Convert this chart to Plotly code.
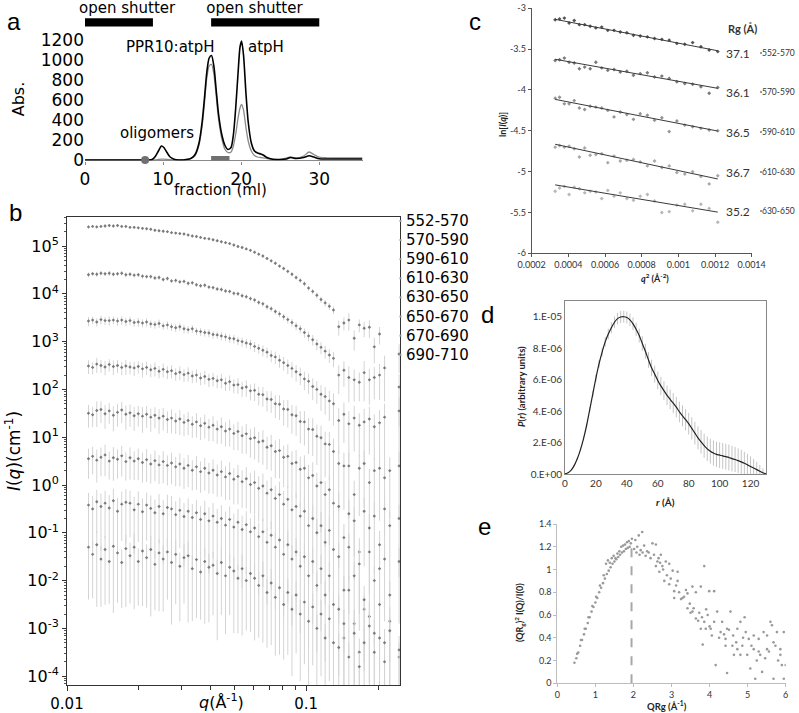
import plotly.graph_objects as go

W, H = 799, 713
def fx(p): return p / W
def fy(p): return 1 - p / H

# ---------------- Panel a : elution profile ----------------
a_fraction = [0, 2, 4, 6, 8, 8.6, 9.0, 9.4, 9.8, 10.1, 10.5, 10.9, 11.4, 12, 13, 13.6, 14.1, 14.6, 15.0, 15.3,
              15.6, 15.9, 16.2, 16.5, 16.8, 17.1, 17.5, 17.9, 18.3, 18.7, 19.0, 19.3, 19.6, 19.85, 20.05, 20.3,
              20.6, 20.9, 21.3, 21.7, 22.1, 22.5, 22.8, 23.3, 24, 25, 25.8, 26.3, 27, 28, 28.7, 29.3, 30, 31, 33, 35.5]
a_black = [0, 0, 0, 0, 0, 5, 35, 90, 140, 125, 75, 30, 8, 0, 5, 18, 55, 170, 380, 620,
           880, 1020, 1045, 940, 700, 460, 260, 150, 105, 125, 250, 520, 870, 1130, 1190, 1050,
           680, 380, 170, 90, 70, 60, 50, 25, 8, 5, 10, 25, 15, 25, 42, 30, 12, 10, 10, 10]
a_gray = [0, 0, 0, 0, 0, 0, 2, 5, 8, 8, 5, 3, 1, 0, 5, 15, 45, 150, 340, 570,
          820, 940, 955, 860, 640, 410, 220, 110, 75, 80, 140, 260, 420, 520, 555, 500,
          330, 190, 90, 45, 30, 25, 22, 15, 8, 5, 20, 30, 20, 40, 80, 55, 28, 22, 20, 20]
a_shutter_start = [0.0, 16.15]
a_shutter_end = [8.7, 30.0]
a_collected = [16.15, 18.5]
a_oligomer_x = [7.7]
a_oligomer_y = [0]

# ---------------- Panel b : SAXS curves ----------------
b_q = [0.01230, 0.01280, 0.01332, 0.01387, 0.01443, 0.01502, 0.01563, 0.01627, 0.01694, 0.01763,
       0.01835, 0.01910, 0.01987, 0.02069, 0.02153, 0.02241, 0.02332, 0.02427, 0.02526, 0.02630,
       0.02737, 0.02849, 0.02965, 0.03086, 0.03212, 0.03343, 0.03479, 0.03621, 0.03769, 0.03923,
       0.04083, 0.04250, 0.04423, 0.04604, 0.04791, 0.04987, 0.05190, 0.05402, 0.05623, 0.05852,
       0.06091, 0.06339, 0.06598, 0.06867, 0.07148, 0.07439, 0.07743, 0.08059, 0.08388, 0.08730,
       0.09086, 0.09457, 0.09843, 0.10245, 0.10663, 0.11098, 0.11551, 0.12022, 0.12513, 0.13024,
       0.1370, 0.1440, 0.1510, 0.1590, 0.1670, 0.1750, 0.1840, 0.1930, 0.2030, 0.2130, 0.2240, 0.2450]
b_labels = ["552-570", "570-590", "590-610", "610-630", "630-650", "650-670", "670-690", "690-710"]

b_log_552 = [5.40, 5.41, 5.40, 5.41, 5.42, 5.43, 5.42, 5.43, 5.41, 5.41,
             5.39, 5.39, 5.38, 5.37, 5.36, 5.35, 5.33, 5.32, 5.31, 5.30,
             5.28, 5.27, 5.26, 5.25, 5.23, 5.21, 5.20, 5.18, 5.16, 5.15,
             5.13, 5.11, 5.09, 5.07, 5.05, 5.02, 4.99, 4.97, 4.94, 4.91,
             4.87, 4.83, 4.79, 4.74, 4.69, 4.64, 4.58, 4.53, 4.47, 4.41,
             4.34, 4.28, 4.21, 4.12, 4.05, 3.97, 3.88, 3.81, 3.74, 3.66,
             3.31, 3.39, 3.45, 3.07, 3.35, 3.28, 3.30, 2.89, 3.16, None, None, 2.74]
b_log_570 = [4.40, 4.42, 4.41, 4.43, 4.42, 4.43, 4.41, 4.42, 4.43, 4.40,
             4.41, 4.39, 4.40, 4.37, 4.36, 4.36, 4.33, 4.34, 4.30, 4.32,
             4.27, 4.28, 4.25, 4.26, 4.22, 4.23, 4.19, 4.17, 4.18, 4.14,
             4.13, 4.10, 4.09, 4.06, 4.05, 4.01, 4.00, 3.96, 3.94, 3.90,
             3.87, 3.82, 3.79, 3.73, 3.69, 3.63, 3.58, 3.52, 3.46, 3.40,
             3.33, 3.27, 3.19, 3.12, 3.04, 2.95, 2.88, 2.80, 2.72, 2.65,
             2.30, 2.40, 2.25, 2.20, 2.15, 2.35, 2.20, 2.25, 2.30, 2.45, None, 2.05]
b_log_590 = [3.43, 3.45, 3.41, 3.46, 3.44, 3.44, 3.45, 3.43, 3.45, 3.42,
             3.44, 3.40, 3.41, 3.39, 3.41, 3.37, 3.36, 3.38, 3.33, 3.35,
             3.31, 3.29, 3.31, 3.27, 3.25, 3.27, 3.22, 3.21, 3.19, 3.18,
             3.15, 3.14, 3.12, 3.10, 3.07, 3.06, 3.02, 3.00, 2.97, 2.95,
             2.90, 2.86, 2.82, 2.78, 2.71, 2.68, 2.61, 2.56, 2.50, 2.44,
             2.37, 2.31, 2.22, 2.17, 2.06, 2.00, 1.90, 1.85, 1.76, 1.70,
             1.35, 1.48, 1.28, 1.40, 1.25, 1.32, 1.38, 1.22, 1.30, 1.42, None, 1.55]
b_log_610 = [2.49, 2.46, 2.53, 2.50, 2.47, 2.52, 2.48, 2.50, 2.46, 2.49,
             2.47, 2.45, 2.48, 2.43, 2.46, 2.41, 2.44, 2.38, 2.42, 2.37,
             2.39, 2.33, 2.36, 2.31, 2.34, 2.28, 2.30, 2.24, 2.27, 2.21,
             2.23, 2.18, 2.20, 2.13, 2.16, 2.09, 2.10, 2.03, 2.05, 1.97,
             1.98, 1.90, 1.89, 1.80, 1.79, 1.70, 1.69, 1.59, 1.58, 1.47,
             1.45, 1.33, 1.32, 1.17, 1.16, 1.02, 0.99, 0.86, 0.85, 0.70,
             0.45, 0.40, 0.40, -0.20, 0.35, 0.45, 0.05, 0.30, 0.35, 0.15, 0.30, 0.40]
b_log_630 = [1.50, 1.47, 1.56, 1.58, 1.49, 1.55, 1.46, 1.52, 1.57, 1.48,
             1.51, 1.45, 1.49, 1.44, 1.48, 1.42, 1.46, 1.40, 1.44, 1.37,
             1.40, 1.34, 1.38, 1.31, 1.35, 1.27, 1.32, 1.24, 1.29, 1.21,
             1.25, 1.17, 1.22, 1.13, 1.17, 1.08, 1.12, 1.03, 1.07, 0.97,
             0.99, 0.90, 0.92, 0.79, 0.82, 0.70, 0.72, 0.58, 0.60, 0.45,
             0.47, 0.33, 0.35, 0.15, 0.20, -0.02, 0.05, -0.20, -0.10, -0.38,
             -0.45, -1.10, -0.60, -0.75, -1.40, -0.55, -0.90, -0.65, -1.25, -0.50, -0.85, -0.70]
b_log_650 = [0.55, 0.60, 0.52, 0.58, 0.63, 0.50, 0.57, 0.54, 0.61, 0.49,
             0.57, 0.50, 0.55, 0.47, 0.53, 0.44, 0.51, 0.42, 0.49, 0.41,
             0.46, 0.38, 0.44, 0.35, 0.41, 0.31, 0.38, 0.28, 0.35, 0.25,
             0.31, 0.21, 0.28, 0.17, 0.24, 0.12, 0.18, 0.07, 0.13, 0.01,
             0.05, -0.07, -0.02, -0.17, -0.10, -0.28, -0.20, -0.40, -0.30, -0.52,
             -0.45, -0.65, -0.55, -0.85, -0.70, -1.00, -0.85, -1.20, -0.95, -1.35,
             -1.50, -2.20, -1.30, -1.90, -1.65, -2.60, -1.40, -2.00, -1.75, -1.55, -2.30, -1.60]
b_log_670 = [-0.42, -0.50, -0.35, -0.45, -0.38, -0.48, -0.33, -0.55, -0.40, -0.36,
             -0.38, -0.52, -0.40, -0.56, -0.42, -0.49, -0.58, -0.45, -0.60, -0.47,
             -0.50, -0.62, -0.53, -0.66, -0.55, -0.68, -0.58, -0.72, -0.60, -0.75,
             -0.65, -0.78, -0.70, -0.84, -0.72, -0.88, -0.78, -0.93, -0.83, -0.98,
             -0.90, -1.08, -0.98, -1.20, -1.05, -1.30, -1.15, -1.45, -1.25, -1.55,
             -1.40, -1.70, -1.50, -1.90, -1.60, -2.10, -1.75, -2.30, -1.90, -2.50,
             -2.60, -3.20, -2.20, -2.90, -3.50, -2.40, -2.75, -3.10, -2.50, -3.30, -2.85, -3.60]
b_log_690 = [-1.30, -1.45, -1.25, -1.55, -1.35, -1.60, -1.28, -1.42, -1.62, -1.33,
             -1.48, -1.30, -1.60, -1.38, -1.52, -1.35, -1.66, -1.42, -1.55, -1.40,
             -1.62, -1.45, -1.70, -1.52, -1.48, -1.75, -1.56, -1.82, -1.60, -1.72,
             -1.68, -1.85, -1.62, -1.90, -1.72, -1.80, -1.95, -1.75, -2.00, -1.85,
             -1.95, -2.10, -1.90, -2.25, -2.05, -2.35, -2.15, -2.50, -2.25, -2.60,
             -2.30, -2.70, -2.45, -2.85, -2.55, -3.00, -2.70, -3.20, -2.80, -3.30,
             -3.40, -2.90, -3.60, -3.10, -3.80, -3.30, -2.95, -3.50, -3.20, -3.70, -3.05, -3.45]

b_err_552 = [0.08, 0.07, 0.08, 0.07, 0.08, 0.07, 0.08, 0.07, 0.07, 0.08,
             0.07, 0.07, 0.06, 0.07, 0.06, 0.07, 0.06, 0.06, 0.07, 0.06,
             0.06, 0.06, 0.07, 0.06, 0.06, 0.06, 0.06, 0.07, 0.06, 0.06,
             0.06, 0.06, 0.06, 0.07, 0.06, 0.06, 0.06, 0.07, 0.06, 0.07,
             0.07, 0.07, 0.08, 0.07, 0.08, 0.08, 0.08, 0.09, 0.09, 0.10,
             0.10, 0.11, 0.12, 0.12, 0.13, 0.14, 0.15, 0.16, 0.17, 0.18,
             0.35, 0.30, 0.40, 0.45, 0.30, 0.35, 0.40, 0.55, 0.40, 0.0, 0.0, 0.60]
b_err_570 = [0.12, 0.10, 0.12, 0.11, 0.10, 0.12, 0.11, 0.10, 0.11, 0.12,
             0.10, 0.11, 0.10, 0.12, 0.10, 0.11, 0.10, 0.11, 0.10, 0.10,
             0.10, 0.11, 0.10, 0.10, 0.11, 0.10, 0.10, 0.10, 0.11, 0.10,
             0.10, 0.10, 0.11, 0.10, 0.10, 0.11, 0.10, 0.11, 0.11, 0.12,
             0.12, 0.12, 0.13, 0.13, 0.14, 0.14, 0.15, 0.16, 0.17, 0.18,
             0.19, 0.20, 0.22, 0.23, 0.25, 0.26, 0.28, 0.30, 0.32, 0.35,
             0.60, 0.55, 0.70, 0.65, 0.60, 0.75, 0.70, 0.65, 0.70, 0.80, 0.0, 0.85]
b_err_590 = [0.22, 0.18, 0.20, 0.21, 0.19, 0.22, 0.18, 0.20, 0.21, 0.19,
             0.20, 0.18, 0.21, 0.19, 0.20, 0.18, 0.19, 0.20, 0.18, 0.19,
             0.18, 0.19, 0.18, 0.20, 0.18, 0.19, 0.18, 0.19, 0.18, 0.19,
             0.19, 0.18, 0.20, 0.19, 0.20, 0.21, 0.20, 0.22, 0.21, 0.23,
             0.24, 0.23, 0.26, 0.25, 0.28, 0.29, 0.30, 0.32, 0.34, 0.36,
             0.38, 0.40, 0.42, 0.45, 0.48, 0.50, 0.55, 0.58, 0.62, 0.65,
             0.80, 0.75, 0.85, 0.80, 0.78, 0.88, 0.82, 0.80, 0.85, 0.90, 0.0, 0.92]
b_err_610 = [0.32, 0.28, 0.35, 0.30, 0.33, 0.29, 0.34, 0.30, 0.31, 0.35,
             0.30, 0.33, 0.29, 0.34, 0.31, 0.30, 0.33, 0.29, 0.32, 0.30,
             0.31, 0.29, 0.32, 0.30, 0.33, 0.29, 0.31, 0.30, 0.32, 0.31,
             0.32, 0.30, 0.34, 0.31, 0.35, 0.33, 0.36, 0.35, 0.38, 0.37,
             0.40, 0.42, 0.44, 0.46, 0.48, 0.50, 0.53, 0.55, 0.58, 0.60,
             0.62, 0.65, 0.68, 0.70, 0.72, 0.75, 0.78, 0.80, 0.82, 0.85,
             0.90, 0.88, 0.92, 0.95, 0.90, 0.88, 0.93, 0.90, 0.92, 0.94, 0.90, 0.92]
b_err_630 = [0.50, 0.45, 0.55, 0.48, 0.52, 0.46, 0.54, 0.50, 0.47, 0.53,
             0.49, 0.52, 0.46, 0.55, 0.48, 0.51, 0.47, 0.53, 0.50, 0.48,
             0.52, 0.47, 0.54, 0.49, 0.51, 0.48, 0.53, 0.50, 0.52, 0.49,
             0.54, 0.51, 0.56, 0.53, 0.57, 0.55, 0.60, 0.58, 0.62, 0.60,
             0.65, 0.63, 0.68, 0.66, 0.70, 0.72, 0.74, 0.76, 0.78, 0.80,
             0.82, 0.84, 0.86, 0.88, 0.89, 0.90, 0.91, 0.92, 0.93, 0.94,
             0.95, 0.92, 0.96, 0.94, 0.95, 0.93, 0.96, 0.94, 0.95, 0.93, 0.96, 0.94]
b_err_650 = [0.62, 0.58, 0.66, 0.60, 0.64, 0.59, 0.67, 0.61, 0.63, 0.60,
             0.65, 0.60, 0.64, 0.62, 0.66, 0.61, 0.63, 0.60, 0.65, 0.62,
             0.64, 0.61, 0.66, 0.63, 0.65, 0.62, 0.67, 0.64, 0.66, 0.63,
             0.68, 0.65, 0.70, 0.67, 0.72, 0.70, 0.74, 0.72, 0.76, 0.75,
             0.78, 0.80, 0.82, 0.83, 0.85, 0.86, 0.87, 0.88, 0.89, 0.90,
             0.91, 0.92, 0.92, 0.93, 0.93, 0.94, 0.94, 0.95, 0.95, 0.95,
             0.96, 0.95, 0.96, 0.95, 0.96, 0.95, 0.96, 0.95, 0.96, 0.95, 0.96, 0.95]
b_err_670 = [0.80, 0.85, 0.78, 0.88, 0.82, 0.86, 0.79, 0.90, 0.83, 0.87,
             0.81, 0.88, 0.84, 0.90, 0.82, 0.87, 0.89, 0.83, 0.91, 0.85,
             0.86, 0.90, 0.84, 0.91, 0.87, 0.92, 0.85, 0.90, 0.88, 0.92,
             0.87, 0.91, 0.89, 0.93, 0.88, 0.92, 0.90, 0.94, 0.91, 0.93,
             0.92, 0.94, 0.93, 0.95, 0.93, 0.95, 0.94, 0.95, 0.94, 0.96,
             0.95, 0.96, 0.95, 0.96, 0.95, 0.96, 0.95, 0.96, 0.95, 0.96,
             0.96, 0.95, 0.96, 0.95, 0.96, 0.95, 0.96, 0.95, 0.96, 0.95, 0.96, 0.95]
b_err_690 = [0.92, 0.88, 0.95, 0.90, 0.93, 0.87, 0.96, 0.91, 0.89, 0.94,
             0.90, 0.95, 0.88, 0.93, 0.91, 0.96, 0.89, 0.94, 0.92, 0.90,
             0.95, 0.91, 0.93, 0.89, 0.96, 0.92, 0.94, 0.90, 0.95, 0.93,
             0.91, 0.96, 0.92, 0.94, 0.90, 0.95, 0.93, 0.96, 0.91, 0.94,
             0.95, 0.92, 0.96, 0.93, 0.95, 0.94, 0.96, 0.93, 0.95, 0.96,
             0.94, 0.96, 0.95, 0.96, 0.94, 0.96, 0.95, 0.96, 0.95, 0.96,
             0.96, 0.95, 0.96, 0.95, 0.96, 0.95, 0.96, 0.95, 0.96, 0.95, 0.96, 0.95]

b_series = [b_log_552, b_log_570, b_log_590, b_log_610, b_log_630, b_log_650, b_log_670, b_log_690]
b_errors = [b_err_552, b_err_570, b_err_590, b_err_610, b_err_630, b_err_650, b_err_670, b_err_690]

# ---------------- Panel c : Guinier plots ----------------
c_q2 = [0.000328, 0.000352, 0.000378, 0.000404, 0.000432, 0.000460, 0.000489, 0.000519, 0.000550,
        0.000582, 0.000615, 0.000649, 0.000683, 0.000719, 0.000755, 0.000792, 0.000831, 0.000870,
        0.000910, 0.000950, 0.000992, 0.001035, 0.001078, 0.001123, 0.001168, 0.001215]
c_ln_552 = [-3.14, -3.13, -3.12, -3.18, -3.15, -3.20, -3.20, -3.22, -3.24, -3.23, -3.27, -3.27, -3.29,
            -3.30, -3.33, -3.34, -3.35, -3.37, -3.38, -3.39, -3.43, -3.44, -3.42, -3.47, -3.51, -3.53]
c_ln_570 = [-3.64, -3.63, -3.61, -3.66, -3.67, -3.74, -3.72, -3.74, -3.66, -3.73, -3.76, -3.75, -3.78,
            -3.77, -3.82, -3.80, -3.79, -3.84, -3.83, -3.86, -3.90, -3.92, -3.93, -3.96, -4.04, -3.97]
c_ln_590 = [-4.10, -4.09, -4.17, -4.17, -4.13, -4.22, -4.24, -4.20, -4.21, -4.22, -4.25, -4.33, -4.27,
            -4.30, -4.36, -4.29, -4.31, -4.37, -4.34, -4.51, -4.38, -4.43, -4.45, -4.47, -4.49, -4.50]
c_ln_610 = [-4.70, -4.68, -4.70, -4.69, -4.72, -4.82, -4.71, -4.80, -4.79, -4.78, -4.89, -4.81, -4.87,
            -4.86, -4.85, -4.88, -4.93, -4.87, -4.95, -4.93, -5.01, -5.03, -5.00, -5.06, -5.15, -5.05]
c_ln_630 = [-5.24, -5.20, -5.18, -5.28, -5.19, -5.21, -5.26, -5.24, -5.25, -5.33, -5.23, -5.30, -5.26,
            -5.33, -5.35, -5.30, -5.28, -5.36, -5.50, -5.49, -5.41, -5.40, -5.48, -5.40, -5.45, -5.62]
c_fit_x = [0.000328, 0.001215]
c_fit_552 = [-3.135, -3.52]
c_fit_570 = [-3.624, -3.98]
c_fit_590 = [-4.115, -4.503]
c_fit_610 = [-4.665, -5.09]
c_fit_630 = [-5.162, -5.496]
c_rg = ["37.1", "36.1", "36.5", "36.7", "35.2"]
c_labels = ["552-570", "570-590", "590-610", "610-630", "630-650"]
c_colors = ["#555555", "#7a7a7a", "#959595", "#a8a8a8", "#b8b8b8"]

# ---------------- Panel d : P(r) ----------------
d_r = [0, 2, 4, 6, 8, 10, 12, 14, 16, 18, 20, 22, 24, 26, 28, 30, 32, 34, 36, 38, 40, 42, 44, 46, 48, 50,
       52, 54, 56, 58, 60, 62, 64, 66, 68, 70, 72, 74, 76, 78, 80, 82, 84, 86, 88, 90, 92, 94, 96, 98, 100,
       102, 104, 106, 108, 110, 112, 114, 116, 118, 120, 122, 124, 126, 128, 130]
d_p = [0, 0.08, 0.25, 0.55, 0.98, 1.55, 2.25, 3.1, 4.1, 5.1,
       6.1, 7.0, 7.75, 8.4, 8.9, 9.3, 9.65, 9.88, 9.98, 10.0,
       9.95, 9.8, 9.55, 9.2, 8.8, 8.3, 7.8, 7.25, 6.75, 6.35,
       5.95, 5.6, 5.3, 5.0, 4.75, 4.5, 4.25, 3.95, 3.7, 3.45,
       3.2, 2.9, 2.6, 2.3, 2.05, 1.8, 1.6, 1.45, 1.33, 1.25,
       1.2, 1.15, 1.1, 1.05, 0.98, 0.92, 0.85, 0.77, 0.68, 0.58,
       0.48, 0.38, 0.28, 0.18, 0.08, 0]
d_err = [0, 0.02, 0.03, 0.05, 0.07, 0.09, 0.11, 0.13, 0.16, 0.19,
         0.22, 0.25, 0.28, 0.31, 0.33, 0.35, 0.36, 0.37, 0.38, 0.38,
         0.38, 0.39, 0.40, 0.42, 0.44, 0.46, 0.48, 0.50, 0.52, 0.54,
         0.56, 0.58, 0.60, 0.62, 0.63, 0.64, 0.65, 0.66, 0.67, 0.68,
         0.69, 0.70, 0.72, 0.73, 0.75, 0.76, 0.78, 0.79, 0.80, 0.81,
         0.82, 0.82, 0.82, 0.82, 0.81, 0.80, 0.78, 0.76, 0.73, 0.70,
         0.65, 0.58, 0.50, 0.40, 0.28, 0.10]
d_unit = 1e-6

# ---------------- Panel e : Kratky plot ----------------
e_x = [0.45, 0.50, 0.55, 0.60, 0.65, 0.70, 0.75, 0.80, 0.85, 0.90, 0.95, 1.00, 1.05, 1.10, 1.15, 1.20, 1.25,
       1.30, 1.35, 1.40, 1.45, 1.50, 1.55, 1.60, 1.65, 1.70, 1.75, 1.80, 1.85, 1.90,
       0.52, 0.62, 0.72, 0.82, 0.92, 1.02, 1.12, 1.22, 1.28, 1.33, 1.38, 1.43, 1.48, 1.53, 1.58, 1.63,
       1.68, 1.73, 1.78, 1.83, 1.88, 1.93,
       1.96, 2.05, 2.14, 2.23, 2.10, 2.19, 2.28, 2.36, 2.50, 2.59, 2.45, 2.63, 2.72, 2.76, 2.85, 2.94,
       3.03, 3.16, 2.59, 2.68, 2.81, 2.94, 3.07, 3.16, 3.07, 3.29, 3.42, 3.55, 3.64, 3.77, 3.86, 3.99,
       4.12, 3.42, 3.55, 3.64, 3.77, 3.86, 3.91, 3.95, 3.82, 4.03, 4.12, 4.20, 4.16, 4.29, 4.33, 4.42,
       4.46, 4.51, 4.55, 4.46, 4.42, 4.60, 4.64, 4.73, 4.81, 4.86, 4.92, 4.99, 5.03, 5.07, 5.16, 5.20,
       5.29, 5.33, 5.38, 5.42, 5.51, 5.60, 5.64, 5.68, 5.73, 5.77, 5.86, 5.90, 5.95, 6.00, 4.73, 4.81,
       4.95, 5.16, 5.29, 5.51, 5.68, 5.86, 5.95,
       2.02, 2.08, 2.16, 2.24, 2.32, 2.40, 2.54, 2.66, 2.70, 2.78, 2.88, 2.98, 3.12, 3.20, 3.25, 3.33,
       3.38, 3.48, 3.50, 3.58, 3.70, 3.73, 3.80, 3.90, 4.00, 4.06, 4.25, 4.38, 4.62, 4.70, 4.88, 5.10,
       5.24, 5.46, 5.56, 5.80]
e_y = [0.18, 0.22, 0.27, 0.33, 0.38, 0.43, 0.48, 0.53, 0.58, 0.63, 0.67, 0.71, 0.75, 0.80, 0.84, 0.88, 0.92,
       0.96, 0.99, 1.02, 1.05, 1.07, 1.09, 1.11, 1.13, 1.15, 1.16, 1.18, 1.19, 1.20,
       0.26, 0.38, 0.48, 0.58, 0.68, 0.76, 0.86, 0.95, 1.05, 1.08, 1.06, 1.10, 1.12, 1.10, 1.14, 1.16,
       1.20, 1.21, 1.22, 1.24, 1.25, 1.23,
       1.27, 1.26, 1.30, 1.33, 1.20, 1.17, 1.21, 1.16, 1.23, 1.22, 1.10, 1.07, 1.13, 1.03, 1.07, 1.05,
       0.99, 0.98, 1.03, 0.98, 0.90, 0.87, 0.81, 0.90, 0.75, 0.75, 0.79, 0.85, 0.80, 0.85, 1.03, 0.81,
       0.81, 0.66, 0.63, 0.57, 0.48, 0.54, 0.65, 0.60, 0.34, 0.48, 0.54, 0.63, 0.16, 0.45, 0.54, 0.39,
       0.48, 0.47, 0.63, 0.09, 0.33, 0.33, 0.25, 0.48, 0.54, 0.33, 0.58, 0.25, 0.39, 0.13, 0.30, 0.04,
       0.39, 0.25, 0.10, 0.45, 0.30, 0.54, 0.51, 0.04, 0.33, 0.45, 0.25, 0.16, 0.04, 0.16, 0.30, 0.25,
       0.45, 0.42, 0.28, 0.42, 0.36, 0.30, 0.45,
       1.18, 1.15, 1.13, 1.15, 1.12, 1.15, 1.13, 1.10, 1.06, 1.00, 0.95, 0.92, 0.86, 0.80, 0.74, 0.76,
       0.82, 0.70, 0.62, 0.66, 0.55, 0.62, 0.58, 0.48, 0.50, 0.42, 0.40, 0.43, 0.42, 0.36, 0.40, 0.33,
       0.20, 0.22, 0.28, 0.20]
e_peak_x = 1.95
e_peak_y = 1.22

# ======================= figure =======================
fig = go.Figure()
ab_font = "DejaVu Sans"
cde_font = "Lato"

# panel a
fig.add_trace(go.Scatter(x=a_fraction, y=a_gray, mode="lines", xaxis="x", yaxis="y",
                         line=dict(color="#8a8a8a", width=1.3, shape="spline", smoothing=0.7)))
fig.add_trace(go.Scatter(x=a_fraction, y=a_black, mode="lines", xaxis="x", yaxis="y",
                         line=dict(color="black", width=1.6, shape="spline", smoothing=0.7)))
fig.add_trace(go.Scatter(x=a_collected, y=[0, 0], mode="lines", xaxis="x", yaxis="y",
                         line=dict(color="#707070", width=8), cliponaxis=False))
fig.add_trace(go.Scatter(x=a_oligomer_x, y=a_oligomer_y, mode="markers", xaxis="x", yaxis="y",
                         marker=dict(size=8, color="#707070"), cliponaxis=False))
# helper trace so that the top label axis (x6) is drawn
fig.add_trace(go.Scatter(x=[0], y=[0], mode="markers", xaxis="x6", yaxis="y",
                         marker=dict(size=1, color="rgba(0,0,0,0)"), hoverinfo="skip"))

shapes = []
for s, e in zip(a_shutter_start, a_shutter_end):
    shapes.append(dict(type="rect", xref="x", yref="paper", x0=s, x1=e, y0=fy(26.5), y1=fy(18.3),
                       fillcolor="black", line=dict(width=0)))

# panel b
for logs, rel in zip(b_series, b_errors):
    xs, ys, up, dn = [], [], [], []
    for q, v, r in zip(b_q, logs, rel):
        if v is None:
            continue
        I = 10 ** v
        xs.append(q)
        ys.append(I)
        up.append(I * r)
        dn.append(I * min(r, 0.97))
    fig.add_trace(go.Scatter(x=xs, y=ys, mode="markers", xaxis="x2", yaxis="y2",
                             marker=dict(size=2.6, color="#7a7a7a", symbol="diamond"),
                             error_y=dict(type="data", array=up, arrayminus=dn, color="#d4d4d4",
                                          thickness=1, width=0)))

# panel c
c_series = [c_ln_552, c_ln_570, c_ln_590, c_ln_610, c_ln_630]
c_fits = [c_fit_552, c_fit_570, c_fit_590, c_fit_610, c_fit_630]
for ys, fit, col in zip(c_series, c_fits, c_colors):
    fig.add_trace(go.Scatter(x=c_q2, y=ys, mode="markers", xaxis="x3", yaxis="y3",
                             marker=dict(size=3, color=col, symbol="diamond")))
    fig.add_trace(go.Scatter(x=c_fit_x, y=fit, mode="lines", xaxis="x3", yaxis="y3",
                             line=dict(color="#3a3a3a", width=1)))

# panel d
d_vals = [p * d_unit for p in d_p]
d_errs = [e * d_unit for e in d_err]
fig.add_trace(go.Scatter(x=d_r, y=d_vals, mode="markers", xaxis="x4", yaxis="y4",
                         marker=dict(size=1, color="rgba(0,0,0,0)"),
                         error_y=dict(type="data", array=d_errs, color="#c4c4c4", thickness=1, width=0)))
fig.add_trace(go.Scatter(x=d_r, y=d_vals, mode="lines", xaxis="x4", yaxis="y4",
                         line=dict(color="#222222", width=1.2, shape="spline", smoothing=0.6)))

# panel e
fig.add_trace(go.Scatter(x=e_x, y=e_y, mode="markers", xaxis="x5", yaxis="y5",
                         marker=dict(size=2.6, color="#9a9a9a")))
fig.add_trace(go.Scatter(x=[e_peak_x, e_peak_x], y=[0, e_peak_y], mode="lines", xaxis="x5", yaxis="y5",
                         line=dict(color="#a8a8a8", width=2, dash="dash")))

# ---------- annotations (all kept inside the page) ----------
anns = []
def ann(text, x, y, size, family=ab_font, color="black", xanchor="center", angle=0):
    anns.append(dict(text=text, x=fx(x), y=fy(y), xref="paper", yref="paper", showarrow=False,
                     font=dict(size=size, family=family, color=color), xanchor=xanchor,
                     yanchor="middle", textangle=angle))

ann("a", 14, 21, 24, "Liberation Sans")
ann("b", 15, 212, 24, "Liberation Sans")
ann("c", 475, 22, 24, "Liberation Sans")
ann("d", 487, 314, 24, "Liberation Sans")
ann("e", 485, 526, 24, "Liberation Sans")

ann("PPR10:atpH", 170, 47, 15)
ann("atpH", 266, 47, 15)
ann("oligomers", 157, 133, 15)
ann("fraction (ml)", 220, 190, 15)

ann("<i>q</i>(Å<sup>-1</sup>)", 221, 701, 16)
for i, lab in enumerate(b_labels):
    yy = 221 + 19.1 * i
    ann(lab, 404, yy, 15, xanchor="left")
    shapes.append(dict(type="rect", xref="paper", yref="paper", x0=fx(399.5), x1=fx(401.5),
                       y0=fy(yy + 1), y1=fy(yy - 1), fillcolor="#9a9a9a", line=dict(width=0)))

ann("<b>ln[<i>I</i>(<i>q</i>)]</b>", 502, 125, 9, cde_font, "#222", angle=-90)
ann("<b><i>q</i><sup>2</sup> (Å<sup>-2</sup>)</b>", 655, 278, 9, cde_font, "#222")
ann("<b>Rg (Å)</b>", 742, 28, 11, cde_font, "#333")
c_label_y = [53, 92, 132, 172, 211]
for rg, lab, yy in zip(c_rg, c_labels, c_label_y):
    ann(rg, 738, yy, 12, cde_font, "#333")
    anns.append(dict(text=lab, x=fx(797), y=fy(yy), xref="paper", yref="paper", showarrow=False,
                     font=dict(size=8.5, family=cde_font, color="#333"), xanchor="right", yanchor="middle"))
    shapes.append(dict(type="rect", xref="paper", yref="paper", x0=fx(760), x1=fx(762),
                       y0=fy(yy + 1), y1=fy(yy - 1), fillcolor="#9a9a9a", line=dict(width=0)))

ann("<b><i>P</i>(<i>r</i>) (arbitrary units)</b>", 522, 387, 9.5, cde_font, "#222", angle=-90)
ann("<b><i>r</i> (Å)</b>", 665, 502, 10, cde_font, "#222")

ann("<b>(QR<sub>g</sub>)<sup>2</sup> I(Q)/I(0)</b>", 519, 613, 9, cde_font, "#222", angle=-90)
ann("<b>QRg (Å<sup>-1</sup>)</b>", 667, 705, 9.5, cde_font, "#222")

# ---------- axes ----------
small = dict(family=cde_font, size=9, color="#333")
layout = dict(
    width=W, height=H, margin=dict(l=0, r=0, t=0, b=0, pad=0), autosize=False,
    paper_bgcolor="white", plot_bgcolor="white", showlegend=False,
    font=dict(family=ab_font, color="black"),
    annotations=anns, shapes=shapes,
    # a
    xaxis=dict(domain=[fx(85), fx(363)], range=[0, 35.6], anchor="y", tickvals=[0, 10, 20, 30],
               ticks="outside", ticklen=3, tickcolor="#888", showline=False, showgrid=False,
               zeroline=False, automargin=False, tickfont=dict(size=17, family=ab_font)),
    xaxis6=dict(overlaying="x", anchor="free", position=fy(16), side="top", range=[0, 35.6],
                tickvals=[5.4, 21.7], ticktext=["open shutter", "open shutter"], ticks="",
                showline=False, showgrid=False, zeroline=False, automargin=False,
                tickfont=dict(size=15, family=ab_font)),
    yaxis=dict(domain=[fy(160.5), fy(37.5)], range=[-5, 1225], anchor="x",
               tickvals=[0, 200, 400, 600, 800, 1000, 1200], ticks="", showline=False, showgrid=False,
               zeroline=True, zerolinecolor="#8a8a8a", zerolinewidth=1.2, automargin=False,
               tickfont=dict(size=17, family=ab_font),
               title=dict(text="Abs.", standoff=12, font=dict(size=16, family=ab_font))),
    # b
    xaxis2=dict(domain=[fx(67), fx(400)], type="log", range=[-2, -0.607], anchor="y2",
                showline=True, mirror=True, linecolor="#333", linewidth=1, showgrid=False, zeroline=False,
                tickvals=[0.01, 0.1], ticktext=["0.01", "0.1"], automargin=False,
                ticks="outside", ticklen=5, tickcolor="#333", tickfont=dict(size=15, family=ab_font),
                minor=dict(ticks="outside", ticklen=4, tickcolor="#333", showgrid=False,
                           tickvals=[0.02, 0.03, 0.04, 0.05, 0.06, 0.07, 0.08, 0.09, 0.2])),
    yaxis2=dict(domain=[fy(685), fy(217)], type="log", range=[-4.184, 5.607], anchor="x2",
                showline=True, mirror=True, linecolor="#333", linewidth=1, showgrid=False, zeroline=False,
                tickvals=[1e-4, 1e-3, 1e-2, 1e-1, 1, 10, 100, 1e3, 1e4, 1e5],
                ticktext=["10<sup>-4</sup>", "10<sup>-3</sup>", "10<sup>-2</sup>", "10<sup>-1</sup>",
                          "10<sup>0</sup>", "10<sup>1</sup>", "10<sup>2</sup>", "10<sup>3</sup>",
                          "10<sup>4</sup>", "10<sup>5</sup>"],
                ticks="outside", ticklen=4, tickcolor="#333", tickfont=dict(size=16, family=ab_font),
                automargin=False,
                title=dict(text="<i>I</i>(<i>q</i>)(cm<sup>-1</sup>)", standoff=2,
                           font=dict(size=17, family=ab_font)),
                minor=dict(ticks="outside", ticklen=2, tickcolor="#555", showgrid=False,
                           tickvals=[m * 10 ** k for k in range(-5, 6) for m in range(2, 10)])),
    # c
    xaxis3=dict(domain=[fx(531.7), fx(751.7)], range=[0.0002, 0.0014], anchor="y3",
                tickvals=[0.0002, 0.0004, 0.0006, 0.0008, 0.001, 0.0012, 0.0014],
                ticktext=["0.0002", "0.0004", "0.0006", "0.0008", "0.001", "0.0012", "0.0014"],
                showline=True, linecolor="#555", ticks="outside", ticklen=3, tickcolor="#555",
                showgrid=False, zeroline=False, automargin=False, tickfont=small),
    yaxis3=dict(domain=[fy(253.3), fy(8.3)], range=[-6, -3], anchor="x3",
                tickvals=[-6, -5.5, -5, -4.5, -4, -3.5, -3],
                ticktext=["-6", "-5.5", "-5", "-4.5", "-4", "-3.5", "-3"],
                showline=True, linecolor="#555", ticks="outside", ticklen=3, tickcolor="#555",
                showgrid=False, zeroline=False, automargin=False, tickfont=small),
    # d
    xaxis4=dict(domain=[fx(565), fx(766)], range=[0, 130], anchor="y4",
                tickvals=[0, 20, 40, 60, 80, 100, 120], showline=True, mirror=True, linecolor="#888",
                ticks="", showgrid=False, zeroline=False, automargin=False,
                tickfont=dict(family=cde_font, size=10, color="#333")),
    yaxis4=dict(domain=[fy(474), fy(301)], range=[0, 1.1e-5], anchor="x4",
                tickvals=[0, 2e-6, 4e-6, 6e-6, 8e-6, 1e-5],
                ticktext=["0.E+00", "2.E-06", "4.E-06", "6.E-06", "8.E-06", "1.E-05"],
                showline=True, mirror=True, linecolor="#888", ticks="", showgrid=False, zeroline=False,
                automargin=False, tickfont=dict(family=cde_font, size=10, color="#333")),
    # e
    xaxis5=dict(domain=[fx(557.3), fx(785.7)], range=[0, 6], anchor="y5", dtick=1,
                showline=True, linecolor="#bdbdbd", ticks="outside", ticklen=3, tickcolor="#bdbdbd",
                showgrid=False, zeroline=False, automargin=False, tickfont=small),
    yaxis5=dict(domain=[fy(683.3), fy(524)], range=[0, 1.4], anchor="x5",
                tickvals=[0, 0.2, 0.4, 0.6, 0.8, 1.0, 1.2, 1.4],
                ticktext=["0", "0.2", "0.4", "0.6", "0.8", "1", "1.2", "1.4"],
                showline=True, linecolor="#bdbdbd", ticks="outside", ticklen=3, tickcolor="#bdbdbd",
                showgrid=False, zeroline=False, automargin=False, tickfont=small),
)
fig.update_layout(**layout)
# the page's default 8px body margin would shift the 799x713 figure; remove it
fig.write_html("out.html", config={"displayModeBar": False},
               post_script="document.body.style.margin='0px';document.body.style.overflow='hidden';")
